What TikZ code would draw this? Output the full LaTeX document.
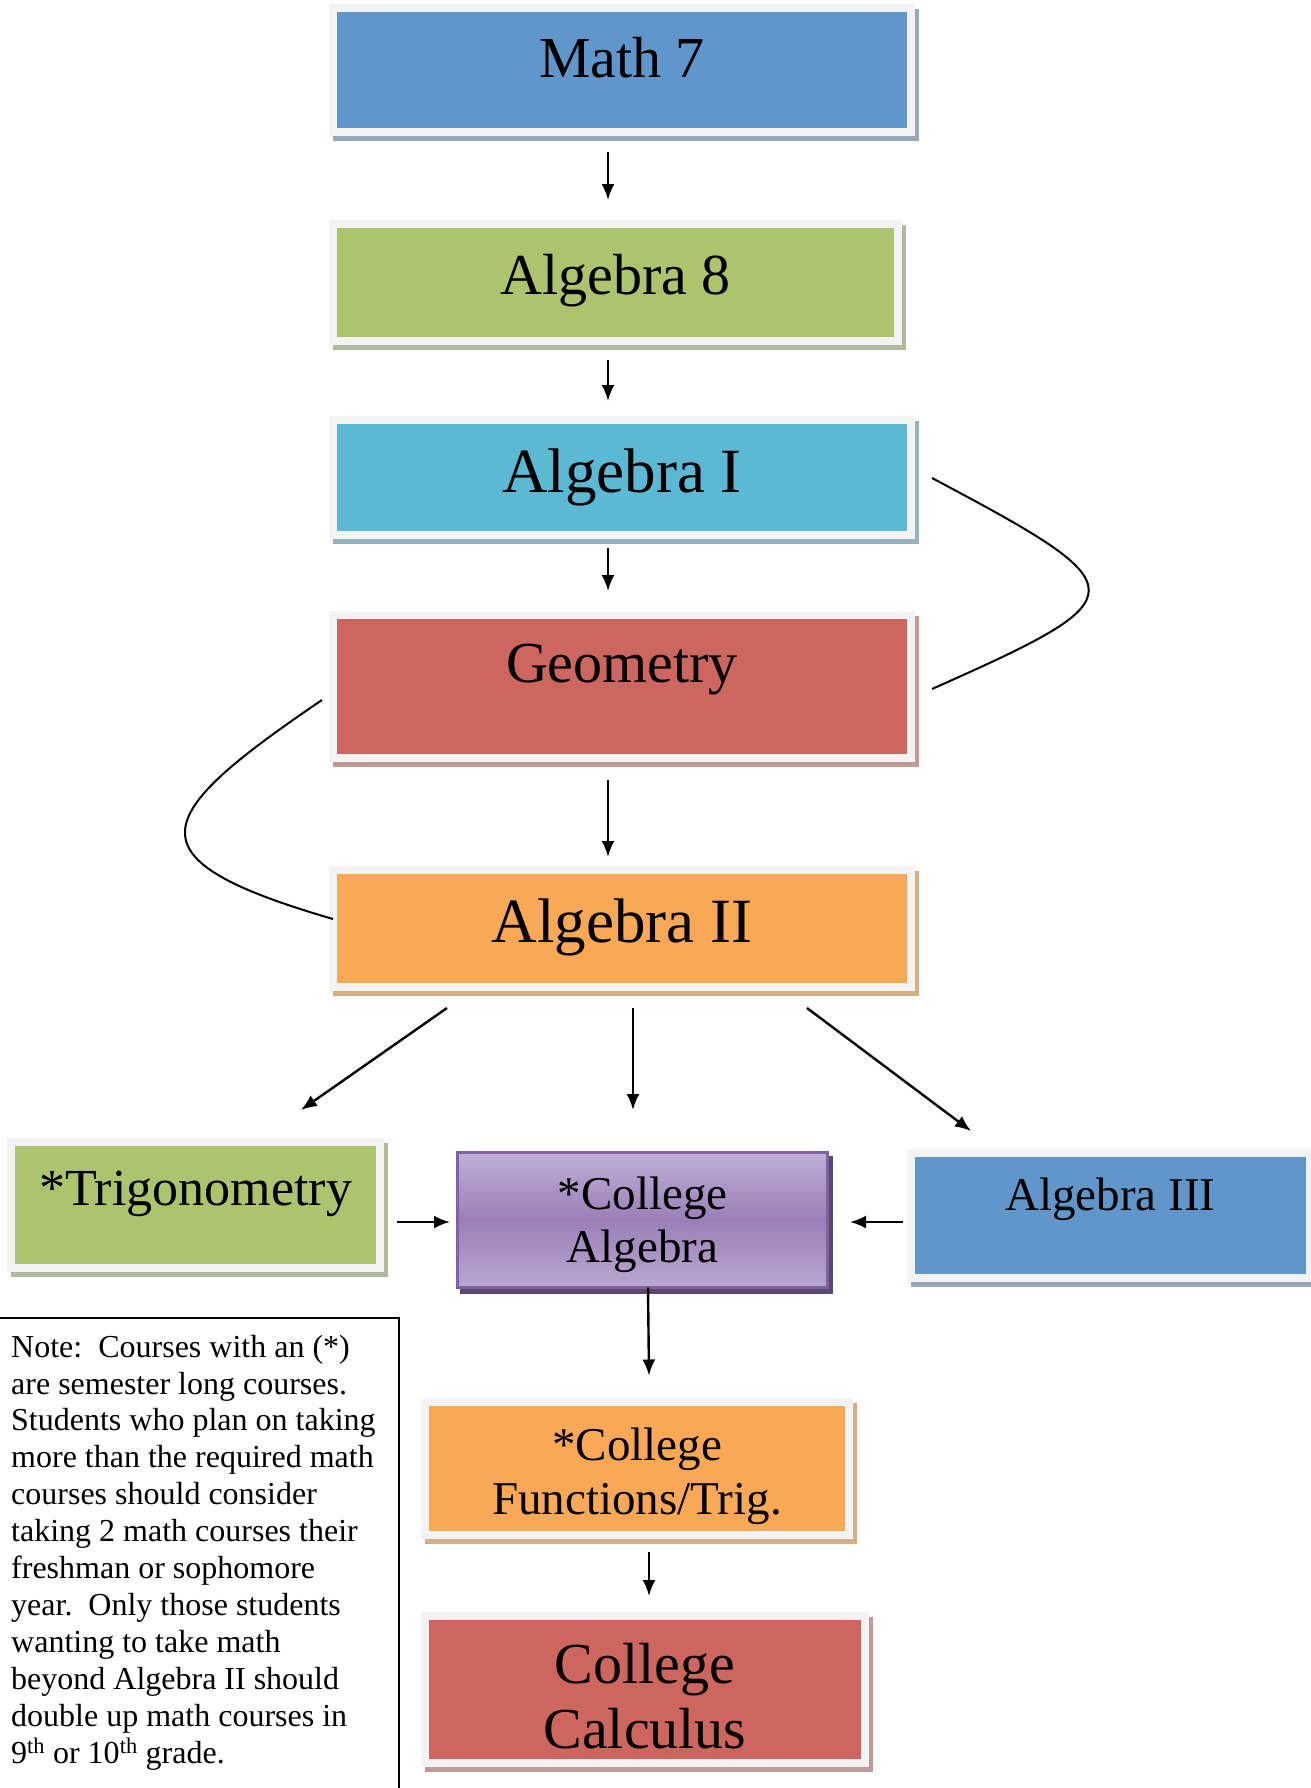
\documentclass[tikz,border=0pt]{standalone}
\usepackage{fontspec}
\setmainfont{Liberation Serif}
\usetikzlibrary{arrows.meta}
\definecolor{frameG}{HTML}{F3F3F3}
\definecolor{blueF}{HTML}{6096C9}\definecolor{blueS}{HTML}{95A8BC}
\definecolor{greenF}{HTML}{ABC46D}\definecolor{greenS}{HTML}{B0B99E}
\definecolor{cyanF}{HTML}{5CB9D3}\definecolor{cyanS}{HTML}{94B3BF}
\definecolor{redF}{HTML}{CD665E}\definecolor{redS}{HTML}{C09A98}
\definecolor{orangeF}{HTML}{F9A856}\definecolor{orangeS}{HTML}{D5AE81}
\definecolor{purTop}{HTML}{BFB0D5}\definecolor{purMid}{HTML}{9A7FB7}\definecolor{purBot}{HTML}{BAA8D0}
\definecolor{purB}{HTML}{7F63A1}\definecolor{purS}{HTML}{5A4870}
\tikzset{
  cbox/.style 2 args={rectangle, inner sep=0pt, outer sep=0pt, fill=#1, draw=frameG, line width=8pt,
    preaction={fill=#2, draw=#2, line width=8pt, transform canvas={shift={(4pt,-5pt)}}}},
  pbox/.style={rectangle, inner sep=0pt, outer sep=0pt, top color=purTop, bottom color=purBot, middle color=purMid,
    draw=purB, line width=3pt,
    preaction={fill=purS, draw=purS, line width=3pt, transform canvas={shift={(4pt,-5pt)}}}},
  lbl/.style={inner sep=0pt, outer sep=0pt, text=black, anchor=base},
  arr/.style={draw=black, line width=2.4pt, -{Latex[length=16pt, width=13pt]}},
  curv/.style={draw=black, line width=2pt},
}
\begin{document}
\begin{tikzpicture}[x=1pt, y=-1pt]
\useasboundingbox (0,0) rectangle (1311,1788);
% boxes
\node[cbox={blueF}{blueS}, minimum width=578pt, minimum height=124pt] (m7) at (622,70) {};
\node[cbox={greenF}{greenS}, minimum width=565pt, minimum height=117pt] (a8) at (615.5,282.5) {};
\node[cbox={cyanF}{cyanS}, minimum width=578pt, minimum height=115pt] (a1) at (622,477.5) {};
\node[cbox={redF}{redS}, minimum width=578pt, minimum height=143pt] (geo) at (622,686.5) {};
\node[cbox={orangeF}{orangeS}, minimum width=578pt, minimum height=117pt] (a2) at (622,928.5) {};
\node[cbox={greenF}{greenS}, minimum width=369pt, minimum height=126pt] (trig) at (195.5,1205) {};
\node[pbox, minimum width=370pt, minimum height=135pt] (ca) at (642.5,1220) {};
\node[cbox={blueF}{blueS}, minimum width=399pt, minimum height=125pt] (a3) at (1110.5,1215.5) {};
\node[cbox={orangeF}{orangeS}, minimum width=424pt, minimum height=133pt] (cf) at (637,1468.5) {};
\node[cbox={redF}{redS}, minimum width=440pt, minimum height=147pt] (cc) at (645,1689.5) {};
% labels
\node[lbl, font=\fontsize{58}{60}\selectfont] (m7t) at (622,77) {Math 7};
\node[lbl, font=\fontsize{58}{60}\selectfont] (a8t) at (615.5,294) {Algebra 8};
\node[lbl, font=\fontsize{63}{66}\selectfont] (a1t) at (622,492) {Algebra I};
\node[lbl, font=\fontsize{58}{60}\selectfont] (geot) at (622,682) {Geometry};
\node[lbl, font=\fontsize{63}{66}\selectfont] (a2t) at (622,942) {Algebra II};
\node[lbl, font=\fontsize{52}{55}\selectfont] (trigt) at (195.5,1205) {*Trigonometry};
\node[lbl, align=center, font=\fontsize{47}{53}\selectfont] (cat) at (642.5,1262) {*College\\Algebra};
\node[lbl, font=\fontsize{47}{50}\selectfont] (a3t) at (1110.5,1210) {Algebra III};
\node[lbl, align=center, font=\fontsize{47}{54}\selectfont] (cft) at (637,1514) {*College\\Functions/Trig.};
\node[lbl, align=center, font=\fontsize{58}{65}\selectfont] (cct) at (645,1748) {College\\Calculus};
% note
\draw[line width=2pt] (0,1318) -| (399,1790);
\node[inner sep=0pt, anchor=base west, align=left, font=\fontsize{32}{36.9}\selectfont] (note) at (11,1763)
{Note:\ \ Courses with an (*)\\
are semester long courses.\\
Students who plan on taking\\
more than the required math\\
courses should consider\\
taking 2 math courses their\\
freshman or sophomore\\
year.\ \ Only those students\\
wanting to take math\\
beyond Algebra II should\\
double up math courses in\\
9\textsuperscript{th} or 10\textsuperscript{th} grade.};
% arrows
\draw[arr] ([xshift=-14pt, yshift=-20pt]m7.south) -- ([xshift=-7.5pt, yshift=24pt]a8.north);
\draw[arr] ([xshift=-7.5pt, yshift=-19pt]a8.south) -- ([xshift=-14pt, yshift=19pt]a1.north);
\draw[arr] ([xshift=-14pt, yshift=-13pt]a1.south) -- ([xshift=-14pt, yshift=24pt]geo.north);
\draw[arr] ([xshift=-14pt, yshift=-22pt]geo.south) -- ([xshift=-14pt, yshift=13pt]a2.north);
\draw[arr] ([xshift=-175pt, yshift=-21pt]a2.south) -- ([xshift=105.5pt, yshift=32pt]trig.north);
\draw[arr] ([xshift=11pt, yshift=-21pt]a2.south) -- ([xshift=-9.5pt, yshift=42.5pt]ca.north);
\draw[arr] ([xshift=185pt, yshift=-21pt]a2.south) -- ([xshift=-139.5pt, yshift=22pt]a3.north);
\draw[arr] ([xshift=17pt, yshift=-17pt]trig.east) -- ([xshift=-7.5pt, yshift=-2pt]ca.west);
\draw[arr] ([xshift=-8pt, yshift=-6.5pt]a3.west) -- ([xshift=22.5pt, yshift=-2pt]ca.east);
\draw[arr] ([xshift=5.5pt]ca.south) -- ([xshift=12pt, yshift=26.5pt]cf.north);
\draw[arr] ([xshift=12pt, yshift=-17pt]cf.south) -- ([xshift=4pt, yshift=20pt]cc.north);
% brackets
\coordinate (r1) at (932,478);
\coordinate (r2) at (932,689);
\coordinate (l1) at (322,700);
\coordinate (l2) at (333,919);
\draw[curv] (r1) .. controls (1141,589) and (1141,596) .. (r2);
\draw[curv] (l1) .. controls (148,818) and (127,859) .. (l2);
\end{tikzpicture}
\end{document}
